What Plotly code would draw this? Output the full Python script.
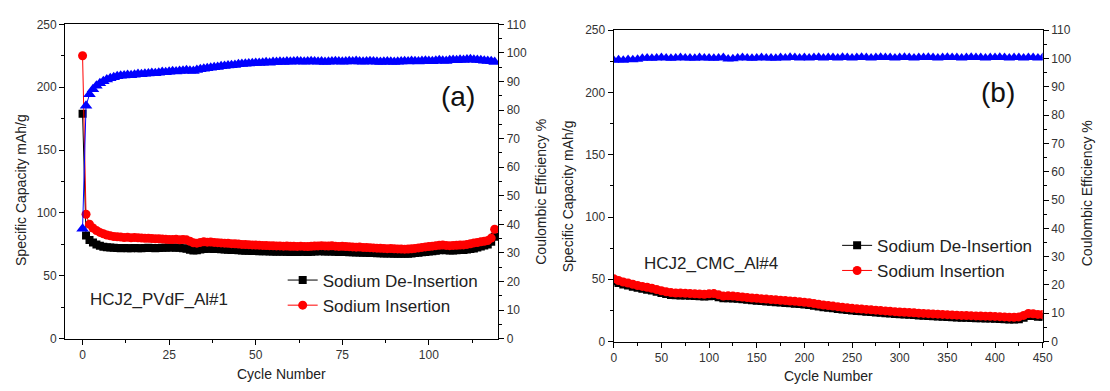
import plotly.graph_objects as go

# ---------------- Panel (a): HCJ2_PVdF_Al#1 ----------------
cycles_a = list(range(120))

deins_a = [
    179, 82, 78.5, 76.5, 75.0, 74.0, 73.2, 72.8, 72.5, 72.3,
    72.2, 72.0, 72.1, 71.9, 72.0, 72.2, 72.0, 71.9, 72.1, 72.3,
    72.2, 72.0, 72.1, 72.3, 72.4, 72.5, 72.6, 72.4, 72.3, 72.0,
    71.6, 70.8, 70.2, 70.4, 71.0, 71.4, 71.5, 71.6, 71.4, 71.3,
    71.1, 71.0, 70.8, 70.6, 70.5, 70.3, 70.1, 70.0, 69.9, 69.8,
    69.7, 69.6, 69.5, 69.5, 69.4, 69.3, 69.2, 69.3, 69.2, 69.1,
    69.0, 69.1, 69.0, 69.2, 69.1, 69.0, 69.2, 69.4, 69.5, 69.6,
    69.4, 69.3, 69.4, 69.2, 69.0, 69.0, 68.9, 68.8, 68.7, 68.6,
    68.6, 68.4, 68.3, 68.2, 68.1, 68.0, 67.9, 67.8, 67.7, 67.8,
    67.6, 67.6, 67.5, 67.5, 67.6, 67.8, 68.1, 68.4, 68.7, 69.0,
    69.3, 69.6, 70.0, 70.3, 70.5, 70.3, 70.1, 70.2, 70.4, 70.5,
    70.6, 70.9, 71.3, 71.8, 72.5, 73.3, 74.2, 75.0, 77.0, 81.0,
]

ins_a = [
    225, 99, 91, 88, 86, 84.5, 83.5, 82.5, 81.8, 81.3,
    81.0, 80.8, 80.5, 80.6, 80.3, 80.4, 80.2, 80.0, 79.8, 79.9,
    79.6, 79.4, 79.5, 79.2, 79.0, 78.9, 78.8, 79.0, 78.7, 78.9,
    78.6, 77.5, 76.3, 76.0, 76.6, 77.0, 76.8, 76.9, 76.6, 76.4,
    76.2, 76.0, 75.9, 75.6, 75.5, 75.3, 75.0, 74.9, 74.8, 74.6,
    74.5, 74.4, 74.2, 74.1, 74.0, 73.9, 73.8, 73.8, 73.6, 73.7,
    73.5, 73.5, 73.4, 73.6, 73.4, 73.3, 73.5, 73.7, 73.8, 74.0,
    73.8, 73.7, 73.9, 73.6, 73.4, 73.5, 73.3, 73.2, 73.0, 72.8,
    72.9, 72.6, 72.5, 72.4, 72.2, 72.0, 71.9, 71.8, 71.6, 71.7,
    71.5, 71.4, 71.3, 71.2, 71.3, 71.5, 71.8, 72.2, 72.6, 73.0,
    73.3, 73.6, 74.0, 74.3, 74.5, 74.2, 74.0, 74.2, 74.3, 74.5,
    74.6, 75.0, 75.5, 76.2, 76.5, 77.0, 77.5, 78.0, 80.0, 87.0,
]

ce_a = [
    38.5, 81.5, 85.5, 87.3, 88.5, 89.4, 90.1, 90.7, 91.1, 91.5,
    91.8, 92.0, 92.1, 92.3, 92.2, 92.4, 92.6, 92.5, 92.7, 92.8,
    93.0, 92.9, 93.1, 93.3, 93.2, 93.4, 93.6, 93.5, 93.7, 93.8,
    93.9, 93.8, 93.7, 94.0, 94.3, 94.5, 94.6, 94.8, 95.0, 95.1,
    95.3, 95.4, 95.6, 95.7, 95.8, 96.0, 96.1, 96.2, 96.3, 96.4,
    96.5, 96.5, 96.6, 96.7, 96.6, 96.8, 96.8, 96.9, 96.8, 97.0,
    96.9, 97.0, 97.1, 97.0, 96.9, 97.0, 97.1, 97.0, 96.9, 97.0,
    96.8, 96.9, 97.0, 97.1, 97.0, 96.9, 97.0, 97.1, 97.0, 97.2,
    97.0, 96.9, 97.0, 97.1, 97.0, 96.9, 96.8, 96.9, 97.0, 96.9,
    96.8, 96.9, 97.0, 97.1, 97.0, 97.2, 97.1, 97.0, 97.2, 97.3,
    97.2, 97.1, 97.3, 97.4, 97.3, 97.2, 97.4, 97.5, 97.4, 97.6,
    97.5, 97.7, 97.8, 97.6, 97.5, 97.4, 97.3, 97.2, 97.1, 96.8,
]

# ---------------- Panel (b): HCJ2_CMC_Al#4 (every 5th cycle) ----------------
cycles_b = list(range(0, 451, 5))

ins_b = [
    50.5, 49.0, 47.8, 47.0, 46.0, 45.0, 44.3, 43.6, 42.8, 41.8,
    40.8, 40.0, 39.3, 39.0, 38.9, 38.8, 38.6, 38.4, 38.2, 38.0,
    38.3, 38.5, 37.5, 36.5, 36.7, 36.5, 36.2, 35.8, 35.4, 35.0,
    34.7, 34.4, 34.1, 33.8, 33.5, 33.2, 32.9, 32.6, 32.3, 32.0,
    31.6, 31.2, 30.6, 30.0, 29.4, 29.0, 28.5, 28.0, 27.5, 27.1,
    26.7, 26.4, 26.1, 25.8, 25.5, 25.2, 24.9, 24.6, 24.3, 24.0,
    23.7, 23.5, 23.3, 23.1, 22.8, 22.6, 22.4, 22.2, 22.0, 21.8,
    21.6, 21.4, 21.2, 21.0, 20.9, 20.8, 20.6, 20.5, 20.4, 20.3,
    20.2, 20.0, 19.8, 19.6, 19.5, 19.8, 21.0, 22.5, 22.3, 21.8,
    21.7,
]

deins_b = [
    48.5, 47.0, 45.9, 45.0, 44.1, 43.2, 42.4, 41.7, 40.9, 39.9,
    39.0, 38.1, 37.4, 37.1, 37.0, 36.9, 36.7, 36.5, 36.3, 36.1,
    36.4, 36.6, 35.6, 34.7, 34.8, 34.6, 34.3, 33.9, 33.5, 33.1,
    32.8, 32.5, 32.2, 31.9, 31.6, 31.3, 31.0, 30.7, 30.4, 30.1,
    29.7, 29.3, 28.7, 28.1, 27.6, 27.1, 26.7, 26.2, 25.7, 25.3,
    24.9, 24.6, 24.3, 24.0, 23.7, 23.4, 23.1, 22.8, 22.5, 22.2,
    21.9, 21.7, 21.5, 21.3, 21.0, 20.8, 20.6, 20.4, 20.2, 20.0,
    19.8, 19.6, 19.4, 19.2, 19.1, 19.0, 18.8, 18.7, 18.6, 18.5,
    18.4, 18.2, 18.0, 17.8, 17.7, 18.0, 19.2, 20.6, 20.5, 20.0,
    19.9,
]

ce_b = [
    99.4, 99.5, 99.4, 99.6, 99.5, 99.7, 100.1, 100.2, 100.1, 100.2,
    100.3, 100.2, 100.1, 100.2, 100.3, 100.2, 100.2, 100.1, 100.3, 100.2,
    100.2, 100.1, 100.2, 100.3, 99.8, 99.9, 100.2, 100.3, 100.2, 100.1,
    100.2, 100.3, 100.2, 100.2, 100.1, 100.3, 100.2, 100.4, 100.3, 100.2,
    100.3, 100.2, 100.3, 100.4, 100.2, 100.3, 100.3, 100.2, 100.4, 100.3,
    100.2, 100.3, 100.4, 100.3, 100.2, 100.3, 100.4, 100.3, 100.3, 100.2,
    100.3, 100.4, 100.3, 100.2, 100.3, 100.3, 100.4, 100.3, 100.2, 100.3,
    100.4, 100.3, 100.3, 100.2, 100.3, 100.4, 100.3, 100.3, 100.2, 100.3,
    100.3, 100.4, 100.3, 100.2, 100.3, 100.3, 100.2, 100.3, 100.3, 100.2,
    100.3,
]

FONT = "Liberation Sans, Arial, sans-serif"
W, H = 1110, 391

fig = go.Figure()

def add_panel(x, deins, ins, ce, xa, ya, ya2, legend, msize):
    fig.add_trace(go.Scatter(
        x=x, y=deins, name="Sodium De-Insertion", mode="lines+markers",
        line=dict(color="black", width=1),
        marker=dict(symbol="square", size=msize[0], color="black"),
        xaxis=xa, yaxis=ya, legend=legend))
    fig.add_trace(go.Scatter(
        x=x, y=ins, name="Sodium Insertion", mode="lines+markers",
        line=dict(color="red", width=1),
        marker=dict(symbol="circle", size=msize[1], color="red"),
        xaxis=xa, yaxis=ya, legend=legend))
    fig.add_trace(go.Scatter(
        x=x, y=ce, name="Coulombic Efficiency", mode="lines+markers",
        line=dict(color="blue", width=1),
        marker=dict(symbol="triangle-up", size=msize[2], color="blue"),
        xaxis=xa, yaxis=ya2, showlegend=False))

add_panel(cycles_a, deins_a, ins_a, ce_a, "x", "y", "y2", "legend", (8, 9, 11))
add_panel(cycles_b, deins_b, ins_b, ce_b, "x2", "y3", "y4", "legend2", (8, 9, 10))

tickfont = dict(family=FONT, size=12, color="#333")

def xaxis(domain, rng, dtick, anchor):
    return dict(domain=domain, range=rng, dtick=dtick, tick0=0, anchor=anchor,
                showgrid=False, zeroline=False, showline=True, linecolor="black",
                linewidth=1.3, mirror=True, ticks="outside", ticklen=5,
                tickcolor="black", tickfont=tickfont,
                minor=dict(dtick=dtick / 2, ticks="outside", ticklen=3,
                           tickcolor="black", showgrid=False))

def yaxis(domain, rng, dtick, anchor, side="left", overlaying=None):
    d = dict(domain=domain, range=rng, dtick=dtick, tick0=0, anchor=anchor,
             side=side, showgrid=False, zeroline=False, showline=True,
             linecolor="black", linewidth=1.3, ticks="outside", ticklen=5,
             tickcolor="black", tickfont=tickfont,
             minor=dict(dtick=dtick / 2, ticks="outside", ticklen=3,
                        tickcolor="black", showgrid=False))
    if overlaying:
        d["overlaying"] = overlaying
    return d

xa_dom = [63 / W, 501 / W]
ya_dom = [1 - 344 / H, 1 - 18 / H]
xb_dom = [618 / W, 1052 / W]
yb_dom = [1 - 347 / H, 1 - 24 / H]

legend_font = dict(family=FONT, size=17, color="#222")

fig.update_layout(
    width=W, height=H,
    margin=dict(l=0, r=0, t=0, b=0),
    paper_bgcolor="white", plot_bgcolor="white",
    font=dict(family=FONT, color="#222"),
    xaxis=xaxis(xa_dom, [-5, 120], 25, "y"),
    yaxis=yaxis(ya_dom, [0, 250], 50, "x"),
    yaxis2=yaxis(ya_dom, [0, 110], 10, "x", side="right", overlaying="y"),
    xaxis2=xaxis(xb_dom, [0, 450], 50, "y3"),
    yaxis3=yaxis(yb_dom, [0, 250], 50, "x2"),
    yaxis4=yaxis(yb_dom, [0, 110], 10, "x2", side="right", overlaying="y3"),
    legend=dict(x=283 / W, y=1 - 265 / H, xanchor="left", yanchor="top",
                bgcolor="rgba(0,0,0,0)", font=legend_font, tracegroupgap=0),
    legend2=dict(x=844 / W, y=1 - 229 / H, xanchor="left", yanchor="top",
                 bgcolor="rgba(0,0,0,0)", font=legend_font, tracegroupgap=0),
    showlegend=True,
)

def label(text, x, y, size, angle=0, color="#222"):
    fig.add_annotation(text=text, x=x / W, y=1 - y / H, xref="paper", yref="paper",
                       showarrow=False, textangle=angle,
                       font=dict(family=FONT, size=size, color=color),
                       xanchor="center", yanchor="middle")

# axis titles
label("Specific Capacity mAh/g", 18, 190, 14, -90)
label("Coulombic Efficiency %", 545, 192, 14, -90)
label("Cycle Number", 282, 381, 14)
label("Specific Capacity mAh/g", 572, 196, 14, -90)
label("Coulombic Efficiency %", 1097, 193, 14, -90)
label("Cycle Number", 835, 383, 14)

# sample names and panel tags
label("HCJ2_PVdF_Al#1", 158, 303, 17)
label("HCJ2_CMC_Al#4", 716, 266, 17)
label("(a)", 460, 93, 28, color="#111")
label("(b)", 1007, 89, 28, color="#111")

fig.write_html("out.html")
